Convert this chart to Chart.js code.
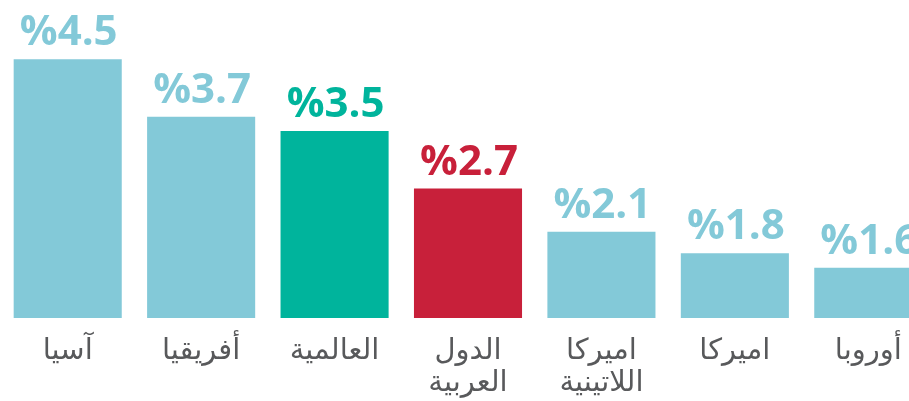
<!DOCTYPE html>
<html>
<head>
<meta charset="utf-8">
<script src="https://cdn.jsdelivr.net/npm/chart.js@4/dist/chart.umd.min.js"></script>
<style>
  html, body { margin: 0; padding: 0; background: #fff; overflow: hidden; }
  #wrap { width: 936px; height: 401px; }
</style>
</head>
<body>
<div id="wrap"><canvas id="chart"></canvas></div>
<script>
const regions = ['آسيا', 'أفريقيا', 'العالمية', ['الدول', 'العربية'], ['اميركا', 'اللاتينية'], 'اميركا', 'أوروبا'];
const growth = [4.5, 3.7, 3.5, 2.7, 2.1, 1.8, 1.6];
const valueLabels = ['%4.5', '%3.7', '%3.5', '%2.7', '%2.1', '%1.8', '%1.6'];
const barColors = ['#83c9d8', '#83c9d8', '#00b49c', '#c8203a', '#83c9d8', '#83c9d8', '#83c9d8'];

// labels above bars, same colour as the bar
const valueLabelPlugin = {
  id: 'valueLabels',
  afterDatasetsDraw(chart) {
    const ctx = chart.ctx;
    const meta = chart.getDatasetMeta(0);
    ctx.save();
    ctx.font = 'bold 42px "Open Sans", sans-serif';
    ctx.textAlign = 'center';
    ctx.textBaseline = 'alphabetic';
    meta.data.forEach((bar, i) => {
      ctx.fillStyle = barColors[i];
      ctx.fillText(valueLabels[i], bar.x + 1, bar.y - 14);
    });
    ctx.restore();
  }
};

new Chart(document.getElementById('chart'), {
  type: 'bar',
  data: {
    labels: regions,
    datasets: [{
      data: growth,
      backgroundColor: barColors,
      borderWidth: 0,
      barPercentage: 0.81,
      categoryPercentage: 1
    }]
  },
  options: {
    responsive: true,
    maintainAspectRatio: false,
    animation: false,
    layout: { padding: { top: 16, left: 1, right: 1, bottom: 0 } },
    plugins: { legend: { display: false }, tooltip: { enabled: false } },
    scales: {
      x: {
        grid: { display: false, drawTicks: false },
        border: { display: false },
        ticks: {
          color: '#58595b',
          padding: 17,
          maxRotation: 0,
          autoSkip: false,
          font: { family: '"DejaVu Sans", sans-serif', size: 29, lineHeight: 1.12 }
        },
        afterFit(scale) { scale.height = 83; }
      },
      y: {
        display: false,
        min: 0.9,
        max: 5.1
      }
    }
  },
  plugins: [valueLabelPlugin]
});
</script>
</body>
</html>
